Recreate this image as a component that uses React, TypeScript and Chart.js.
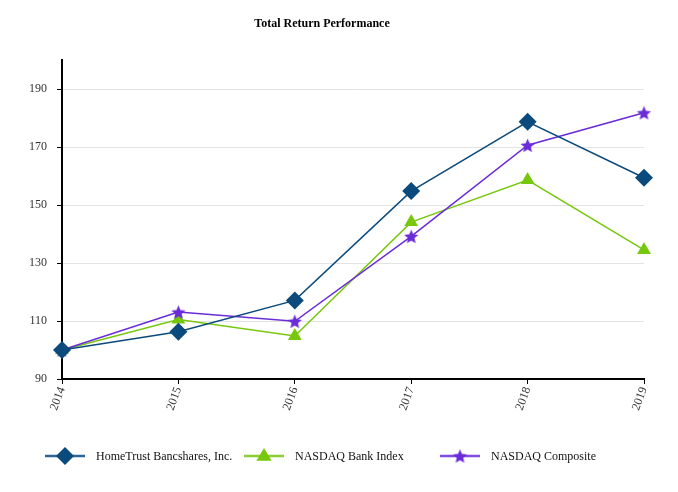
import React, { useEffect, useRef } from "react";
import { Chart, registerables } from "chart.js";

Chart.register(...registerables);

const years = ["2014", "2015", "2016", "2017", "2018", "2019"];
const homeTrust = [100, 106.3, 117.1, 154.8, 178.7, 159.4];
const bankIndex = [100, 110.5, 104.8, 144.1, 158.6, 134.5];
const composite = [100, 113.1, 109.9, 139.2, 170.6, 181.8];
const yTicks = [90, 110, 130, 150, 170, 190];
const seriesNames = ["HomeTrust Bancshares, Inc.", "NASDAQ Bank Index", "NASDAQ Composite"];

const BLUE = "#0b4a7c";
const GREEN = "#77c80d";
const PURPLE = "#6a2bd9";
const FONT = "'Liberation Serif', 'Times New Roman', serif";

function makeStar(color: string, outer: number): HTMLCanvasElement {
  const c = document.createElement("canvas");
  const size = Math.ceil(outer * 2 + 2);
  const dpr = 1;
  c.width = size * dpr;
  c.height = size * dpr;
  const ctx = c.getContext("2d")!;
  const cx = size / 2;
  const cy = size / 2 + 0.8;
  const inner = outer * 0.45;
  ctx.beginPath();
  for (let i = 0; i < 10; i++) {
    const r = i % 2 === 0 ? outer : inner;
    const a = -Math.PI / 2 + (i * Math.PI) / 5;
    const x = cx + r * Math.cos(a);
    const y = cy + r * Math.sin(a);
    if (i === 0) ctx.moveTo(x, y);
    else ctx.lineTo(x, y);
  }
  ctx.closePath();
  ctx.fillStyle = color;
  ctx.fill();
  return c;
}

export default function App() {
  const ref = useRef<HTMLCanvasElement>(null);
  useEffect(() => {
    document.body.style.margin = "0";
    const star = makeStar(PURPLE, 7.5);
    const colors = [BLUE, GREEN, PURPLE];

    const legendPlugin = {
      id: "customLegend",
      afterDraw(chart: any) {
        const ctx = chart.ctx;
        const y = 456;
        const starts = [45, 244, 440];
        ctx.save();
        starts.forEach((x0, i) => {
          const col = colors[i];
          ctx.globalAlpha = 0.85;
          ctx.strokeStyle = col;
          ctx.lineWidth = 2.5;
          ctx.beginPath();
          ctx.moveTo(x0, y);
          ctx.lineTo(x0 + 40, y);
          ctx.stroke();
          ctx.globalAlpha = 1;
          const mx = x0 + 20;
          ctx.fillStyle = col;
          if (i === 0) {
            const r = 9;
            ctx.beginPath();
            ctx.moveTo(mx, y - r);
            ctx.lineTo(mx + r, y);
            ctx.lineTo(mx, y + r);
            ctx.lineTo(mx - r, y);
            ctx.closePath();
            ctx.fill();
          } else if (i === 1) {
            const r = 8;
            ctx.beginPath();
            ctx.moveTo(mx, y - r);
            ctx.lineTo(mx + r * 0.95, y + r * 0.6);
            ctx.lineTo(mx - r * 0.95, y + r * 0.6);
            ctx.closePath();
            ctx.fill();
          } else {
            ctx.drawImage(star, mx - star.width / 2, y - star.height / 2);
          }
          ctx.fillStyle = "#111";
          ctx.font = "12px " + FONT;
          ctx.textBaseline = "middle";
          ctx.textAlign = "left";
          ctx.fillText(seriesNames[i], x0 + 51, y + 1);
        });
        ctx.restore();
      },
    };

    const chart = new Chart(ref.current!, {
      type: "line",
      data: {
        labels: years,
        datasets: [
          {
            label: seriesNames[0],
            data: homeTrust,
            borderColor: BLUE,
            backgroundColor: BLUE,
            borderWidth: 1.5,
            pointStyle: "rectRot",
            pointRadius: 9,
            pointBorderWidth: 0,
            tension: 0,
            order: 1,
          },
          {
            label: seriesNames[1],
            data: bankIndex,
            borderColor: GREEN,
            backgroundColor: GREEN,
            borderWidth: 1.5,
            pointStyle: "triangle",
            pointRadius: 8,
            pointBorderWidth: 0,
            tension: 0,
            order: 3,
          },
          {
            label: seriesNames[2],
            data: composite,
            borderColor: PURPLE,
            backgroundColor: PURPLE,
            borderWidth: 1.5,
            pointStyle: star as any,
            pointRadius: 7,
            pointBorderWidth: 0,
            tension: 0,
            order: 2,
          },
        ],
      },
      plugins: [legendPlugin],
      options: {
        animation: false,
        responsive: false,
        maintainAspectRatio: false,
        devicePixelRatio: 1,
        layout: { padding: { left: 0, right: 34, top: 0, bottom: 0 } },
        font: { family: FONT },
        plugins: {
          legend: { display: false },
          tooltip: { enabled: false },
          title: {
            display: true,
            text: "Total Return Performance",
            color: "#000",
            font: { family: FONT, size: 12, weight: "bold" },
            padding: { top: 17, bottom: 28.6 },
          },
        },
        scales: {
          x: {
            offset: false,
            afterFit(scale: any) {
              scale.height = 113;
            },
            border: { color: "#000", width: 2 },
            grid: { drawOnChartArea: false, drawTicks: true, tickLength: 5, tickColor: "#000" },
            ticks: {
              color: "#333",
              font: { family: FONT, size: 12 },
              minRotation: 70,
              maxRotation: 70,
              padding: 1,
              autoSkip: false,
            },
          },
          y: {
            min: 90,
            max: 200,
            afterFit(scale: any) {
              scale.width = 62;
            },
            afterBuildTicks(scale: any) {
              scale.ticks = yTicks.map((v) => ({ value: v }));
            },
            border: { color: "#000", width: 2 },
            grid: { color: "#e3e3e3", lineWidth: 1, drawTicks: true, tickLength: 5, tickColor: "#000" },
            ticks: {
              color: "#333",
              font: { family: FONT, size: 12 },
              padding: 10,
            },
          },
        },
      },
    });
    return () => chart.destroy();
  }, []);
  return (
    <div style={{ position: "absolute", left: 0, top: 0, width: 678, height: 492 }}>
      <canvas ref={ref} width={678} height={492} style={{ width: 678, height: 492, display: "block" }} />
    </div>
  );
}
